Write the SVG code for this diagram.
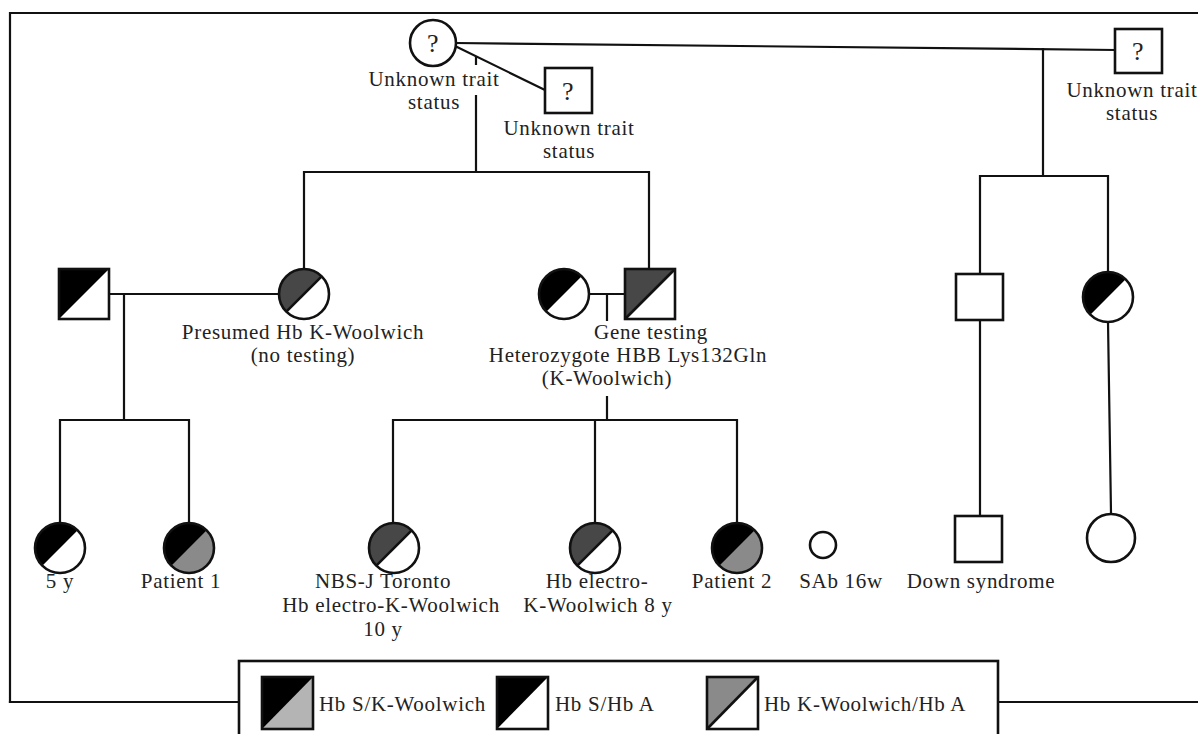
<svg xmlns="http://www.w3.org/2000/svg" xmlns:xlink="http://www.w3.org/1999/xlink" width="1198" height="734" viewBox="0 0 1198 734">
<style>
.ln{fill:none;stroke:#111;stroke-width:2.2;stroke-linecap:square}
.sh{stroke:#111;stroke-width:2.6}
text{font-family:"Liberation Serif","Times New Roman",serif;font-size:21px;fill:#222;letter-spacing:0.7px}
.m{text-anchor:middle}
.q{font-size:26px;text-anchor:middle}
</style>
<defs>
<g id="cSA"><circle r="25" fill="#fff"/><path d="M-17.68,17.68 A25,25 0 0 1 17.68,-17.68 Z" fill="#000"/><circle r="25" fill="none" class="sh"/></g>
<g id="cKA"><circle r="25" fill="#fff"/><path d="M-17.68,17.68 A25,25 0 0 1 17.68,-17.68 Z" fill="#474747"/><line x1="-17.68" y1="17.68" x2="17.68" y2="-17.68" class="sh"/><circle r="25" fill="none" class="sh"/></g>
<g id="cSK"><circle r="25" fill="#8a8a8a"/><path d="M-17.68,17.68 A25,25 0 0 1 17.68,-17.68 Z" fill="#000"/><circle r="25" fill="none" class="sh"/></g>
<g id="sSA"><rect x="-25" y="-25" width="50" height="50" fill="#fff"/><path d="M-25,-25 H25 L-25,25 Z" fill="#000"/><rect x="-25" y="-25" width="50" height="50" fill="none" class="sh"/></g>
<g id="sKA"><rect x="-25" y="-25" width="50" height="50" fill="#fff"/><path d="M-25,-25 H25 L-25,25 Z" fill="#474747"/><line x1="-25" y1="25" x2="25" y2="-25" class="sh"/><rect x="-25" y="-25" width="50" height="50" fill="none" class="sh"/></g>
</defs>
<rect width="1198" height="734" fill="#fff"/>

<g id="connectors">
<path class="ln" d="M10,702 V13 H1198"/>
<path class="ln" d="M10,702 H239 M998,702 H1198"/>
<path class="ln" d="M456,43 L1115,50"/>
<path class="ln" d="M455,46 L545,90"/>
<path class="ln" d="M476,57 V64 M476,96 V172"/>
<path class="ln" d="M304,172 H649 M304,172 V269 M649,172 V269"/>
<path class="ln" d="M109,294 H279 M124,294 V420 M60,420 H189 M60,420 V523 M189,420 V523"/>
<path class="ln" d="M589,294 H624 M607,294 V320 M607,397 V420 M393,420 H737 M393,420 V523 M595,420 V523 M737,420 V523"/>
<path class="ln" d="M1043,49 V176 M980,176 H1108 M980,176 V274 M1108,176 V272 M980,320 V516 M1108,322 L1111,513"/>
</g>

<g id="gp-female">
<circle cx="433" cy="43" r="23" fill="#fff" class="sh"/>
<text class="q" x="433" y="52">?</text>
<text class="m" x="434" y="86">Unknown trait</text>
<text class="m" x="434" y="109">status</text>
</g>
<g id="gp-male1">
<rect x="545" y="68" width="47" height="45" fill="#fff" class="sh"/>
<text class="q" x="568" y="100">?</text>
<text class="m" x="569" y="135">Unknown trait</text>
<text class="m" x="569" y="158">status</text>
</g>
<g id="gp-male2">
<rect x="1115" y="29" width="47" height="44" fill="#fff" class="sh"/>
<text class="q" x="1138" y="60">?</text>
<text class="m" x="1132" y="97">Unknown trait</text>
<text class="m" x="1132" y="120">status</text>
</g>

<g id="father-left"><use xlink:href="#sSA" x="84" y="294"/></g>
<g id="mother-presumed">
<use xlink:href="#cKA" x="304" y="294"/>
<text class="m" x="303" y="339">Presumed Hb K-Woolwich</text>
<text class="m" x="303" y="362">(no testing)</text>
</g>
<g id="mother-middle"><use xlink:href="#cSA" x="564" y="294"/></g>
<g id="father-middle">
<use xlink:href="#sKA" x="650" y="294"/>
<text class="m" x="651" y="339">Gene testing</text>
<text class="m" x="628" y="362">Heterozygote HBB Lys132Gln</text>
<text class="m" x="607" y="385">(K-Woolwich)</text>
</g>
<g id="uncle">
<rect x="956" y="274" width="47" height="46" fill="#fff" class="sh"/>
</g>
<g id="aunt"><use xlink:href="#cSA" x="1108" y="297"/></g>

<g id="child-5y">
<use xlink:href="#cSA" x="60" y="548"/>
<text class="m" x="60" y="588">5 y</text>
</g>
<g id="patient1">
<use xlink:href="#cSK" x="189" y="548"/>
<text class="m" x="181" y="588">Patient 1</text>
</g>
<g id="nbs">
<use xlink:href="#cKA" x="394" y="548"/>
<text class="m" x="383" y="588">NBS-J Toronto</text>
<text class="m" x="391" y="612">Hb electro-K-Woolwich</text>
<text class="m" x="383" y="636">10 y</text>
</g>
<g id="hb-electro">
<use xlink:href="#cKA" x="595" y="548"/>
<text class="m" x="597" y="588">Hb electro-</text>
<text class="m" x="598" y="612">K-Woolwich 8 y</text>
</g>
<g id="patient2">
<use xlink:href="#cSK" x="737" y="548"/>
<text class="m" x="732" y="588">Patient 2</text>
</g>
<g id="sab">
<circle cx="823" cy="545" r="13" fill="#fff" class="sh"/>
<text class="m" x="841" y="588">SAb 16w</text>
</g>
<g id="down">
<rect x="955" y="516" width="47" height="46" fill="#fff" class="sh"/>
<text class="m" x="981" y="588">Down syndrome</text>
</g>
<g id="cousin-f">
<circle cx="1111" cy="538" r="24" fill="#fff" class="sh"/>
</g>

<g id="legend">
<rect x="239" y="661" width="759" height="90" fill="#fff" class="sh"/>
<rect x="262" y="677" width="51" height="52" fill="#b4b4b4"/>
<path d="M262,677 H313 L262,729 Z" fill="#000"/>
<rect x="262" y="677" width="51" height="52" fill="none" class="sh"/>
<text x="319" y="711">Hb S/K-Woolwich</text>
<rect x="497" y="677" width="51" height="52" fill="#fff"/>
<path d="M497,677 H548 L497,729 Z" fill="#000"/>
<rect x="497" y="677" width="51" height="52" fill="none" class="sh"/>
<text x="555" y="711">Hb S/Hb A</text>
<rect x="707" y="677" width="51" height="52" fill="#fff"/>
<path d="M707,677 H758 L707,729 Z" fill="#8a8a8a"/>
<line x1="707" y1="729" x2="758" y2="677" class="sh"/>
<rect x="707" y="677" width="51" height="52" fill="none" class="sh"/>
<text x="764" y="711">Hb K-Woolwich/Hb A</text>
</g>
</svg>
